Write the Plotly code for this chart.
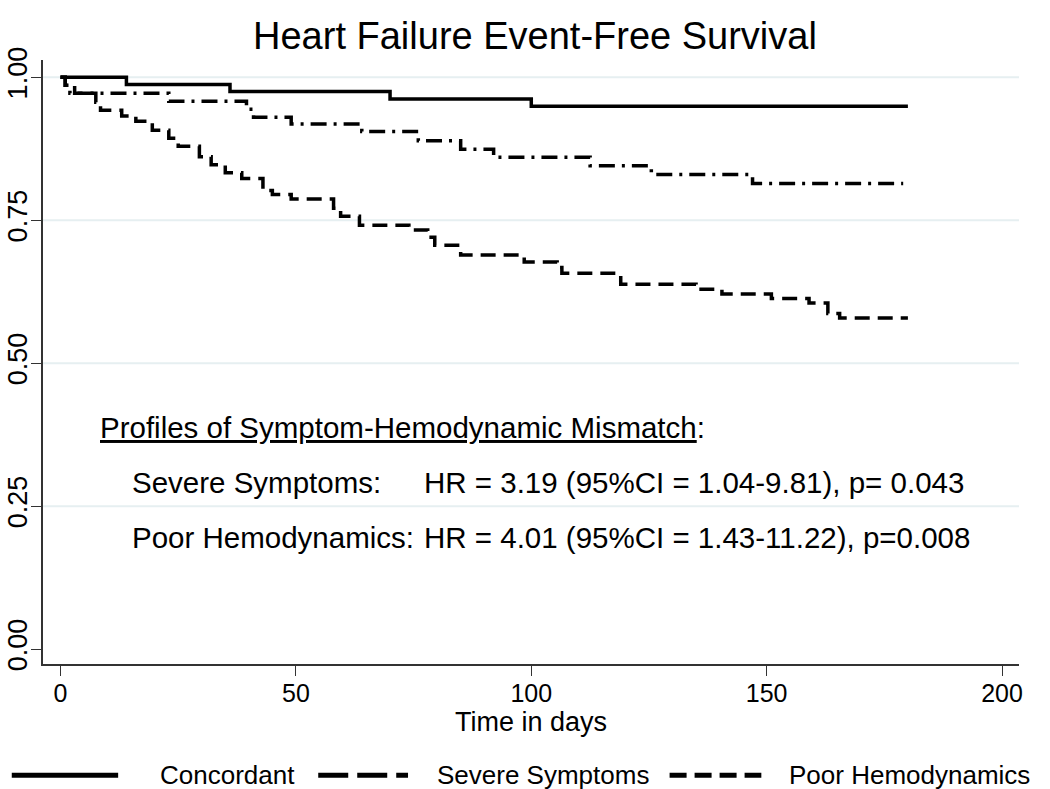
import plotly.graph_objects as go

# Kaplan-Meier curves (time in days, survival)
conc_t = [0, 14, 36, 70, 100, 180]
conc_s = [1.0, 0.987, 0.975, 0.962, 0.949, 0.949]

sev_t = [0, 1, 2, 23, 39.5, 41, 49, 64, 76, 85, 92, 112.5, 125.5, 147, 179]
sev_s = [1.0, 0.986, 0.972, 0.958, 0.944, 0.930, 0.918, 0.905, 0.889, 0.874,
         0.860, 0.845, 0.830, 0.814, 0.814]

poor_t = [0, 1, 3, 7.5, 8.5, 13, 16, 19.5, 23, 25, 29.5, 32, 35, 38.5, 43, 45, 49,
          58, 59.5, 63.5, 74, 78, 79.5, 85, 98.5, 105.5, 106.5, 119, 135, 140.5,
          151, 159, 163, 165.5, 180]
poor_s = [1.0, 0.986, 0.972, 0.956, 0.942, 0.932, 0.923, 0.907, 0.893, 0.879,
          0.861, 0.847, 0.833, 0.823, 0.802, 0.795, 0.787, 0.771, 0.757, 0.741,
          0.733, 0.720, 0.706, 0.689, 0.677, 0.667, 0.657, 0.638, 0.629, 0.621,
          0.613, 0.605, 0.587, 0.579, 0.579]

group_names = ["Concordant", "Severe Symptoms", "Poor Hemodynamics"]

x_ticks = [0, 50, 100, 150, 200]
y_ticks = [0, 0.25, 0.5, 0.75, 1.0]
y_labels = ["0.00", "0.25", "0.50", "0.75", "1.00"]
grid_vals = [0.25, 0.5, 0.75, 1.0]

stats_labels = ["Severe Symptoms:", "Poor Hemodynamics:"]
stats_text = ["HR = 3.19 (95%CI = 1.04-9.81), p= 0.043",
              "HR = 4.01 (95%CI = 1.43-11.22), p=0.008"]

FONT = "Liberation Sans, Arial, sans-serif"

fig = go.Figure()
curves = [(conc_t, conc_s, "solid"),
          (sev_t, sev_s, "16px,7px,3px,7px"),
          (poor_t, poor_s, "15px,8px")]
for (t, s, dash), name in zip(curves, group_names):
    fig.add_trace(go.Scatter(x=t, y=s, mode="lines", name=name, line_shape="hv",
                             line=dict(color="black", width=3.5, dash=dash),
                             showlegend=False))

# light horizontal grid (none at 0)
for g in grid_vals:
    fig.add_hline(y=g, line=dict(color="#E6EFF1", width=2), layer="below")

# text block inside the plot
fig.add_annotation(x=0.056, y=0.391, xref="paper", yref="paper", xanchor="left",
                   yanchor="middle",
                   text="<u>Profiles of Symptom-Hemodynamic Mismatch</u>:",
                   showarrow=False, font=dict(size=29.5, color="black"))
for i, (lab, txt) in enumerate(zip(stats_labels, stats_text)):
    yy = 0.301 - i * 0.091
    fig.add_annotation(x=0.089, y=yy, xref="paper", yref="paper", xanchor="left",
                       yanchor="middle", text=lab, showarrow=False,
                       font=dict(size=29.5, color="black"))
    fig.add_annotation(x=0.388, y=yy, xref="paper", yref="paper", xanchor="left",
                       yanchor="middle", text=txt, showarrow=False,
                       font=dict(size=29.5, color="black"))

# legend drawn by hand to get the long line samples
leg_y = -0.184
leg_lines = [(-0.032, 0.077, "solid"), (0.282, 0.374, "30px,9px"), (0.642, 0.736, "17px,8px")]
leg_text_x = [0.118, 0.402, 0.762]
for (x0, x1, dash), tx, name in zip(leg_lines, leg_text_x, group_names):
    fig.add_shape(type="line", xref="paper", yref="paper", x0=x0, x1=x1, y0=leg_y, y1=leg_y,
                  line=dict(color="black", width=5, dash=dash))
    fig.add_annotation(x=tx, y=leg_y, xref="paper", yref="paper", xanchor="left",
                       yanchor="middle", text=name, showarrow=False,
                       font=dict(size=26, color="black"))

fig.update_layout(
    width=1050, height=789,
    margin=dict(l=43, r=31, t=60, b=125),
    paper_bgcolor="white", plot_bgcolor="white",
    font=dict(family=FONT, color="black"),
    title=dict(text="Heart Failure Event-Free Survival", x=0.5095, xref="container",
               xanchor="center", y=0.955, yref="container", yanchor="middle",
               font=dict(size=38, color="black")),
)
fig.update_xaxes(range=[-3.72, 203.6], tickvals=x_ticks, showgrid=False, zeroline=False,
                 automargin=False,
                 showline=True, linecolor="#333333", linewidth=1.5,
                 ticks="outside", ticklen=10, tickcolor="#333333", tickwidth=1.2,
                 tickfont=dict(size=25), ticklabelstandoff=-4,
                 title=dict(text="Time in days", font=dict(size=27), standoff=0))
fig.update_yaxes(range=[-0.026, 1.03], tickvals=y_ticks, ticktext=y_labels, tickangle=-90,
                 showgrid=False, zeroline=False, automargin=False,
                 showline=True, linecolor="#333333", linewidth=1.5,
                 ticks="outside", ticklen=10, tickcolor="#333333", tickwidth=1.2,
                 tickfont=dict(size=27), ticklabelstandoff=-7)

# drop the browser's default body margin so the figure sits at the page corner
fig.write_html("out.html", config={"displayModeBar": False},
               post_script="document.body.style.margin='0';")
